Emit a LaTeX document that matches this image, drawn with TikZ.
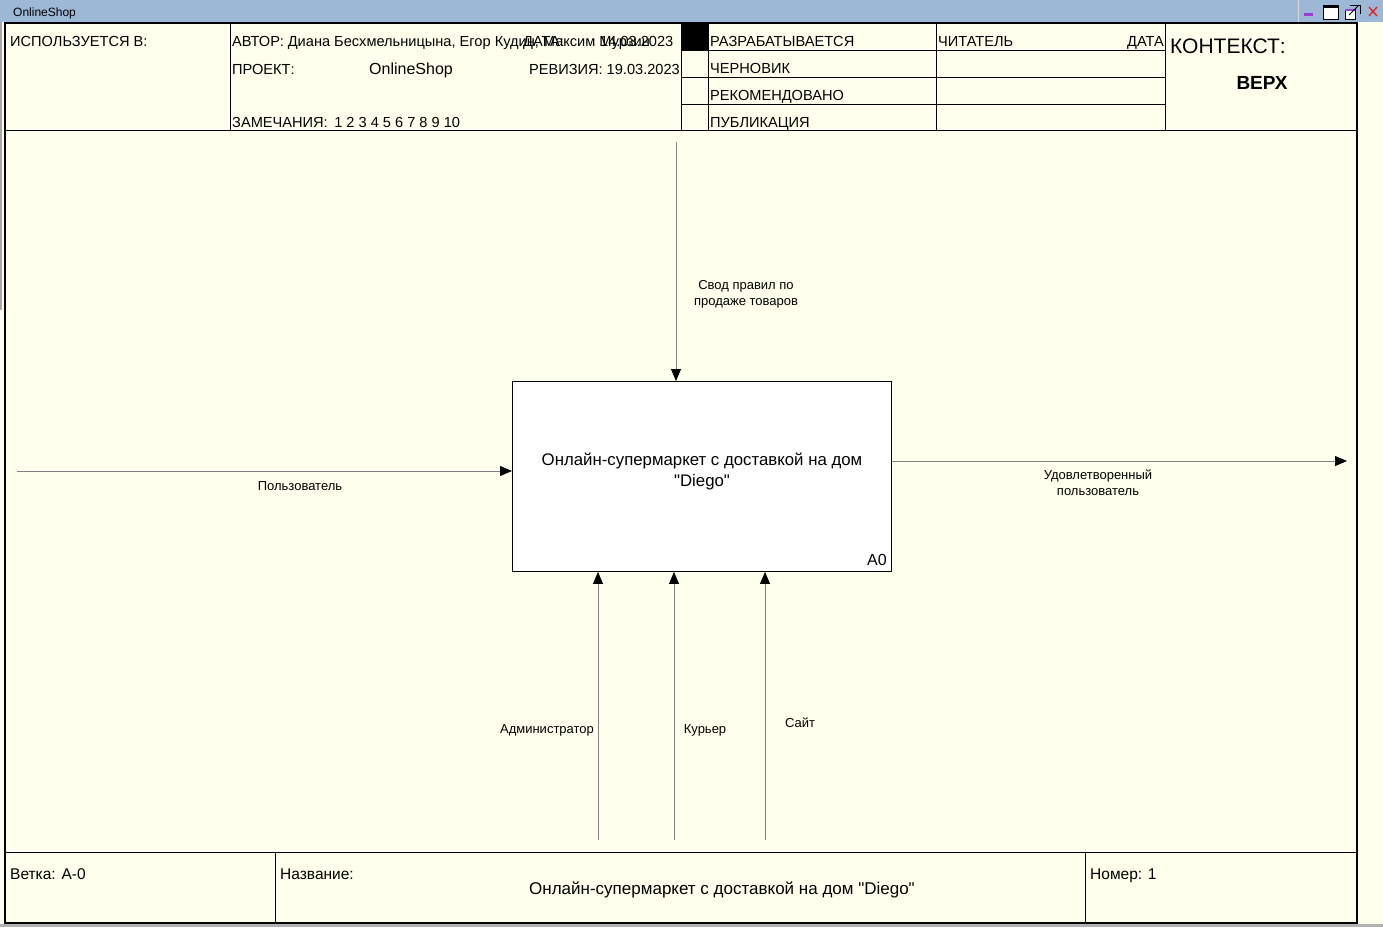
\documentclass[tikz,border=0pt]{standalone}
\usepackage{fontspec}
\setmainfont{Liberation Sans}[Ligatures=TeXOff]
\usetikzlibrary{arrows.meta}
\definecolor{paper}{HTML}{FFFFEE}
\definecolor{titlebar}{HTML}{9DB7D6}
\definecolor{wire}{HTML}{808080}
\definecolor{btnpurple}{HTML}{9A3FD0}
\definecolor{btnred}{HTML}{E02020}
\begin{document}
\begin{tikzpicture}[x=1pt,y=-1pt,
  frame/.style={draw=black, line width=1.4pt},
  rule/.style={draw=black, line width=1pt},
  hdr/.style={font=\fontsize{14.6}{16}\selectfont, anchor=base west, inner sep=0pt},
  ftr/.style={font=\fontsize{15.5}{17}\selectfont, anchor=base west, inner sep=0pt},
  lbl/.style={font=\fontsize{13}{16}\selectfont, align=center, inner sep=0pt},
  flow/.style={draw=wire, line width=0.8pt, -{Triangle[length=12pt,width=10pt,color=black]}},
]
% canvas and window title bar
\useasboundingbox (0,0) rectangle (1383,927);
\fill[paper] (0,0) rectangle (1383,927);
\fill[titlebar] (0,0) rectangle (1383,22);
\draw[white!85!black, line width=0.8pt] (1298,0) -- (1298,22);
\node[font=\fontsize{12}{14}\selectfont, anchor=base west, inner sep=0pt] (wintitle) at (13,16) {OnlineShop};
% window buttons
\fill[btnpurple] (1304,13) rectangle (1313,16);
\draw[black, fill=white, line width=0.8pt] (1323,5) rectangle (1338,19);
\fill[black] (1323,5) rectangle (1338,7.5);
\draw[black, fill=white, line width=0.8pt] (1345,9) rectangle (1355,19);
\fill[btnpurple] (1345,9) rectangle (1355,11);
\draw[black, line width=0.8pt] (1350,5) -- (1360,5) -- (1360,14);
\draw[black, line width=0.8pt] (1349,15) -- (1358,6);
\draw[btnred, line width=1.3pt] (1369,7) -- (1377,16) (1377,7) -- (1369,16);
% scroll edge and bottom band
\fill[gray!70] (0,22) rectangle (2,310);
\fill[gray!60] (0,924) rectangle (1383,927);

% outer frame and form grid
\draw[frame] (5,23) rectangle (1357,923);
\draw[rule] (5,130) -- (1357,130);
\draw[rule] (230,23) -- (230,130);
\draw[rule] (681,23) -- (681,130);
\draw[rule] (708,23) -- (708,130);
\draw[rule] (936,23) -- (936,130);
\draw[rule] (1165,23) -- (1165,130);
\draw[rule] (681,50) -- (1165,50);
\draw[rule] (681,77) -- (1165,77);
\draw[rule] (681,104) -- (1165,104);
\fill[black] (681,23) rectangle (708,50);
\draw[rule] (5,852) -- (1357,852);
\draw[rule] (275,852) -- (275,923);
\draw[rule] (1085,852) -- (1085,923);

% header texts
\node[hdr] (usedin) at (10,46) {ИСПОЛЬЗУЕТСЯ В:};
\begin{scope}
  \clip (231,24) rectangle (680,50);
  \node[hdr] (author) at (232,46) {АВТОР: Диана Бесхмельницына, Егор Кудин, Максим Мурзин};
\end{scope}
\node[hdr] (datelbl) at (523,46) {ДАТА:};
\node[hdr] (dateval) at (600,46) {14.03.2023};
\node[hdr] (project) at (232,74) {ПРОЕКТ:};
\node[font=\fontsize{16}{18}\selectfont, anchor=base west, inner sep=0pt] (projname) at (369,74) {OnlineShop};
\node[hdr, anchor=base east] (revision) at (680,74) {РЕВИЗИЯ: 19.03.2023};
\node[hdr] (notes) at (232,127) {ЗАМЕЧАНИЯ:\, 1 2 3 4 5 6 7 8 9 10};
\node[hdr] (working) at (710,46) {РАЗРАБАТЫВАЕТСЯ};
\node[hdr] (draft) at (710,73) {ЧЕРНОВИК};
\node[hdr] (recommended) at (710,100) {РЕКОМЕНДОВАНО};
\node[hdr] (publication) at (710,127) {ПУБЛИКАЦИЯ};
\node[hdr] (reader) at (938,46) {ЧИТАТЕЛЬ};
\node[hdr, anchor=base east] (readerdate) at (1164,46) {ДАТА};
\node[font=\fontsize{21}{23}\selectfont, anchor=base west, inner sep=0pt] (context) at (1170,53) {КОНТЕКСТ:};
\node[font=\bfseries\fontsize{19}{21}\selectfont, anchor=base, inner sep=0pt] (top) at (1262,89) {ВЕРХ};

% footer texts
\node[ftr] (node) at (10,879) {Ветка: A-0};
\node[ftr] (titlelbl) at (280,879) {Название:};
\node[ftr, font=\fontsize{17}{19}\selectfont, anchor=base] (titleval) at (722,894) {Онлайн-супермаркет с доставкой на дом "Diego"};
\node[ftr] (number) at (1090,879) {Номер: 1};

% activity box
\node[draw=black, fill=white, line width=0.9pt, minimum width=379pt, minimum height=190pt,
      anchor=north west, inner sep=0pt] (a0) at (512,381) {};
\node[font=\fontsize{16.8}{21}\selectfont, align=center, inner sep=0pt] (a0title) at (702,471)
  {Онлайн-супермаркет с доставкой на дом\\"Diego"};
\node[font=\fontsize{16}{18}\selectfont, anchor=base east, inner sep=0pt] (a0id) at (887,565) {A0};

% arrow ends
\coordinate (ctl) at (676,142);
\coordinate (inp) at (17,471);
\coordinate (outp) at (1347,461);
\coordinate (mech1) at (598,840);
\coordinate (mech2) at (674,840);
\coordinate (mech3) at (765,840);

% arrows
\draw[flow] (ctl) -- (ctl |- a0.north);
\draw[flow] (inp) -- (inp -| a0.west);
\draw[flow] (outp -| a0.east) -- (outp);
\draw[flow] (mech1) -- (mech1 |- a0.south);
\draw[flow] (mech2) -- (mech2 |- a0.south);
\draw[flow] (mech3) -- (mech3 |- a0.south);

% arrow labels
\node[lbl] (ctllbl) at (746,294) {Свод правил по\\продаже товаров};
\node[lbl] (inplbl) at (300,486) {Пользователь};
\node[lbl] (outlbl) at (1098,483) {Удовлетворенный\\пользователь};
\node[lbl] (mech1lbl) at (547,730) {Администратор};
\node[lbl] (mech2lbl) at (705,730) {Курьер};
\node[lbl] (mech3lbl) at (800,723) {Сайт};
\end{tikzpicture}
\end{document}
